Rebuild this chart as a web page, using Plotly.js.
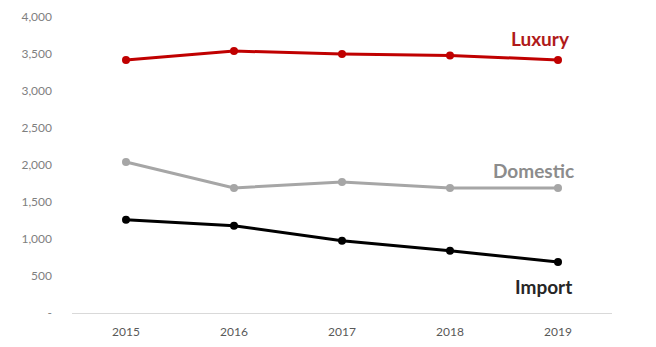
<!DOCTYPE html>
<html>
<head>
<meta charset="utf-8">
<script src="https://cdn.plot.ly/plotly-3.0.1.min.js"></script>
<style>html,body{margin:0;padding:0;background:#fff;}#chart{width:656px;height:347px;}</style>
</head>
<body>
<div id="chart"></div>
<script>
const years = ["2015", "2016", "2017", "2018", "2019"];
const luxury = [3420, 3540, 3500, 3480, 3420];
const domestic = [2040, 1690, 1770, 1690, 1690];
const importVals = [1260, 1180, 975, 840, 690];
const yTickVals = [0, 500, 1000, 1500, 2000, 2500, 3000, 3500, 4000];
const yTickText = ["-", "500", "1,000", "1,500", "2,000", "2,500", "3,000", "3,500", "4,000"];
const seriesNames = ["Luxury", "Domestic", "Import"];
const colors = ["#C00000", "#A6A6A6", "#000000"];

const series = [luxury, domestic, importVals];
const traces = series.map((vals, i) => ({
  x: years, y: vals, type: "scatter", mode: "lines+markers", name: seriesNames[i],
  line: {color: colors[i], width: 3},
  marker: {color: colors[i], size: 8},
  hoverinfo: "skip"
}));

const labelColors = ["#B01A1A", "#8C8C8C", "#262626"];
const labelX = [3.84, 3.77, 3.87];
const labelY = [3710, 1930, 355];
const annotations = seriesNames.map((n, i) => ({
  x: labelX[i], y: labelY[i], xref: "x", yref: "y", text: "<b>" + n + "</b>",
  showarrow: false, font: {family: "Lato, 'Open Sans', sans-serif", size: 19, color: labelColors[i]},
  xanchor: "center", yanchor: "middle"
}));

const layout = {
  width: 656, height: 347,
  margin: {l: 72, r: 44, t: 17, b: 34},
  paper_bgcolor: "#fff", plot_bgcolor: "#fff",
  showlegend: false,
  font: {family: "Lato, 'Open Sans', sans-serif", color: "#595959", size: 12},
  xaxis: {
    type: "category", range: [-0.5, 4.5], showgrid: false, zeroline: false,
    showline: true, linecolor: "#D9D9D9", linewidth: 1,
    ticks: "", tickfont: {size: 12, color: "#595959"}, ticklabelstandoff: 8
  },
  yaxis: {
    range: [0, 4000], tickvals: yTickVals, ticktext: yTickText,
    showgrid: false, zeroline: false, showline: false, ticks: "",
    tickfont: {size: 12, color: "#7F7F7F"}, ticklabelstandoff: 19
  },
  annotations: annotations
};

Plotly.newPlot("chart", traces, layout, {displayModeBar: false, staticPlot: true});
</script>
</body>
</html>
